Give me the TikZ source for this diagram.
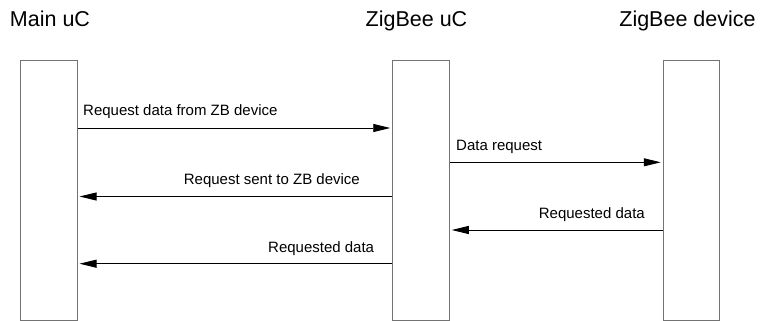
\documentclass[tikz,border=0pt]{standalone}
\usepackage{fontspec}
\setmainfont{Liberation Sans}
\usetikzlibrary{arrows.meta}
\begin{document}
\begin{tikzpicture}[x=1pt,y=-1pt,
	lifeline/.style={draw=black!55,line width=1pt,inner sep=0pt,minimum width=56.5pt,minimum height=259pt},
	title/.style={font=\fontsize{21.5}{24}\selectfont,anchor=base,inner sep=0pt},
	msg/.style={line width=0.9pt,-{Triangle[length=17pt,width=8pt]},shorten >=2pt},
	lbl/.style={font=\fontsize{15}{17}\selectfont,inner sep=0pt}]
	\useasboundingbox (0,0) rectangle (761,321);
	% participants
	\node[lifeline] (main) at (48.8,190.5) {};
	\node[lifeline] (zbuc) at (421,190.5) {};
	\node[lifeline] (zbdev) at (691.5,190.5) {};
	\node[title] (tmain) at (50,26.7) {Main uC};
	\node[title] (tzbuc) at (416.5,26.7) {ZigBee uC};
	\node[title] (tzbdev) at (687.5,26.7) {ZigBee device};
	% messages
	\draw[msg] (main.east |- 0,128) -- (zbuc.west |- 0,128);
	\node[lbl,anchor=base west] (l1) at (83,116) {Request data from ZB device};
	\draw[msg] (zbuc.east |- 0,162.3) -- (zbdev.west |- 0,162.3);
	\node[lbl,anchor=base west] (l2) at (456,150.3) {Data request};
	\draw[msg] (zbuc.west |- 0,196.5) -- (main.east |- 0,196.5);
	\node[lbl,anchor=base east] (l3) at (360,184.5) {Request sent to ZB device};
	\draw[msg] (zbdev.west |- 0,230) -- (zbuc.east |- 0,230);
	\node[lbl,anchor=base east] (l4) at (645,218) {Requested data};
	\draw[msg] (zbuc.west |- 0,263.7) -- (main.east |- 0,263.7);
	\node[lbl,anchor=base east] (l5) at (374.3,252) {Requested data};
\end{tikzpicture}
\end{document}
